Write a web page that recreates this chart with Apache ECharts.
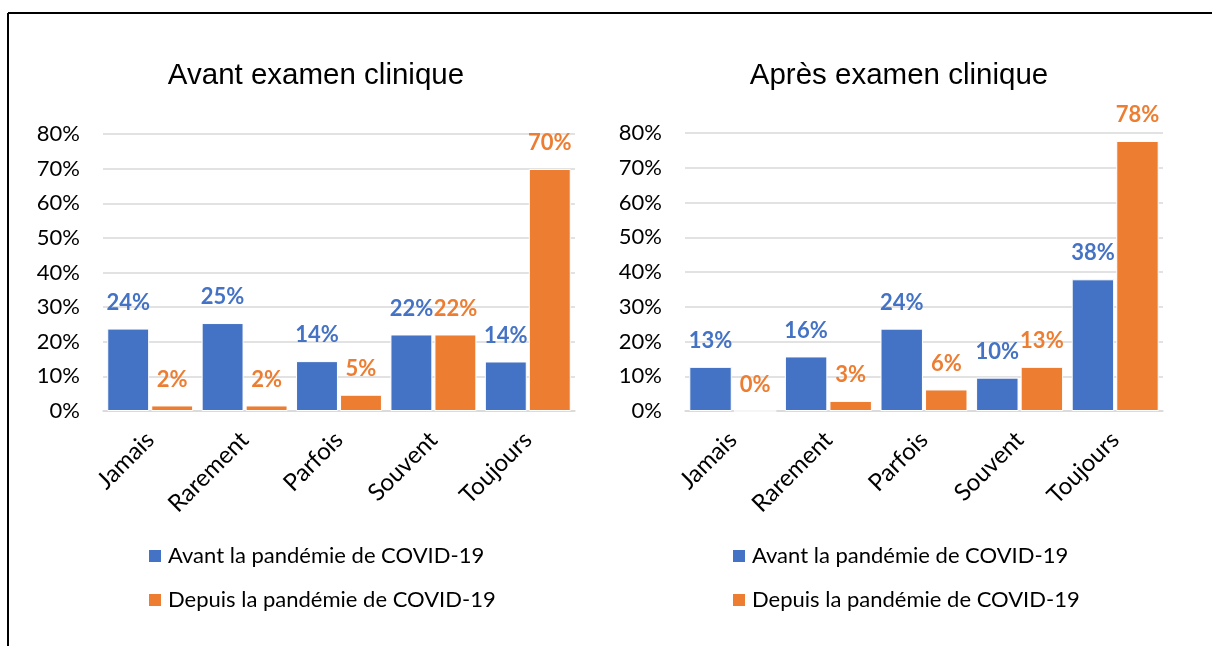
<!DOCTYPE html>
<html>
<head>
<meta charset="utf-8">
<script src="https://cdn.jsdelivr.net/npm/echarts@6/dist/echarts.min.js"></script>
<style>
  html, body { margin: 0; padding: 0; background: #fff; }
  #chart { width: 1212px; height: 646px; }
</style>
</head>
<body>
<div id="chart"></div>
<script>
// categories and values (in %)
var categories = ['Jamais', 'Rarement', 'Parfois', 'Souvent', 'Toujours'];
var seriesNames = ['Avant la pandémie de COVID-19', 'Depuis la pandémie de COVID-19'];
var titles = ['Avant examen clinique', 'Après examen clinique'];

var avantExamBefore = [23.8, 25.4, 14.4, 22.1, 14.3];
var avantExamSince  = [1.6, 1.6, 4.7, 22.1, 69.9];
var apresExamBefore = [12.7, 15.7, 23.7, 9.6, 37.9];
var apresExamSince  = [0, 2.9, 6.2, 12.7, 77.7];

var blue = '#4472C4';
var orange = '#ED7D31';
var bodyFont = 'Lato';

var chart = echarts.init(document.getElementById('chart'));

function labelFor(color) {
  return {
    show: true,
    position: 'top',
    distance: 15,
    color: color,
    fontFamily: bodyFont,
    fontWeight: 'bold',
    fontSize: 22,
    formatter: function (p) { return Math.round(p.value) + '%'; }
  };
}

function barSeries(name, data, color, idx) {
  return {
    name: name,
    type: 'bar',
    xAxisIndex: idx,
    yAxisIndex: idx,
    data: data,
    barGap: '5%',
    barCategoryGap: '9%',
    itemStyle: { color: color, borderColor: '#fff', borderWidth: 1 },
    label: labelFor(color)
  };
}

function xAxisFor(idx) {
  return {
    type: 'category',
    gridIndex: idx,
    data: categories,
    axisTick: { show: false },
    axisLine: { lineStyle: { color: '#d9d9d9', width: 1.5 } },
    axisLabel: { rotate: 45, margin: 25, padding: [10, 0, 0, 0], color: '#000', fontFamily: bodyFont, fontSize: 24 }
  };
}

function yAxisFor(idx) {
  return {
    type: 'value',
    gridIndex: idx,
    min: 0,
    max: 80,
    interval: 10,
    axisLine: { show: false },
    axisTick: { show: false },
    splitLine: { lineStyle: { color: '#d9d9d9', width: 1.5 } },
    axisLabel: { formatter: '{value}%', margin: 23, color: '#000', fontFamily: bodyFont, fontSize: 22 }
  };
}

function legendFor(left) {
  return {
    orient: 'vertical',
    left: left,
    top: 545,
    padding: 0,
    icon: 'rect',
    itemWidth: 14,
    itemHeight: 14,
    itemGap: 22,
    data: seriesNames,
    textStyle: { color: '#000', fontFamily: bodyFont, fontSize: 22, padding: [0, 0, 0, 1] }
  };
}

var titleStyle = { fontFamily: 'Liberation Sans', fontSize: 29.5, fontWeight: 'normal', color: '#000' };

var option = {
  animation: false,
  title: [
    { text: titles[0], left: 311, top: 56, textAlign: 'center', textStyle: titleStyle },
    { text: titles[1], left: 894, top: 56, textAlign: 'center', textStyle: titleStyle }
  ],
  legend: [legendFor(147), legendFor(731)],
  grid: [
    { left: 103, top: 134, width: 472, height: 277 },
    { left: 685, top: 133, width: 478, height: 278 }
  ],
  xAxis: [xAxisFor(0), xAxisFor(1)],
  yAxis: [yAxisFor(0), yAxisFor(1)],
  series: [
    barSeries(seriesNames[0], avantExamBefore, blue, 0),
    barSeries(seriesNames[1], avantExamSince, orange, 0),
    barSeries(seriesNames[0], apresExamBefore, blue, 1),
    barSeries(seriesNames[1], apresExamSince, orange, 1)
  ],
  graphic: [
    { type: 'line', shape: { x1: 8, y1: 13, x2: 1212, y2: 13 }, style: { stroke: '#000', lineWidth: 2 } },
    { type: 'line', shape: { x1: 8, y1: 13, x2: 8, y2: 646 }, style: { stroke: '#000', lineWidth: 2 } }
  ]
};

chart.setOption(option);
</script>
</body>
</html>
